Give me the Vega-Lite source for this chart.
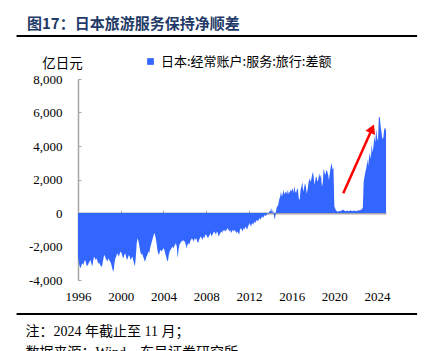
{
  "$schema": "https://vega.github.io/schema/vega-lite/v6.json",
  "width": 308,
  "height": 201,
  "autosize": "none",
  "padding": {"left": 78, "top": 79, "right": 51, "bottom": 71},
  "background": "white",
  "config": {"view": {"stroke": null}, "axis": {"labelOverlap": false}, "axisY": {"labelOverlap": false}, "axisQuantitative": {"labelOverlap": false}},
  "title": {"text": "图17：日本旅游服务保持净顺差", "anchor": "start", "frame": "group", "font": "Noto Sans CJK SC", "fontSize": 15, "fontWeight": "bold", "color": "#1F3A68", "dx": -51, "dy": 18, "offset": 14, "baseline": "middle"},
  "datasets": {
    "series": [
      {"d":"1996-01","v":-2600},{"d":"1996-02","v":-3000},{"d":"1996-03","v":-3200},{"d":"1996-04","v":-3300},{"d":"1996-05","v":-3100},{"d":"1996-06","v":-3000},{"d":"1996-07","v":-3100},{"d":"1996-08","v":-2900},{"d":"1996-09","v":-2800},{"d":"1996-10","v":-3000},{"d":"1996-11","v":-3200},{"d":"1996-12","v":-3100},
      {"d":"1997-01","v":-3000},{"d":"1997-02","v":-2900},{"d":"1997-03","v":-2800},{"d":"1997-04","v":-3000},{"d":"1997-05","v":-3200},{"d":"1997-06","v":-2900},{"d":"1997-07","v":-2600},{"d":"1997-08","v":-2700},{"d":"1997-09","v":-2800},{"d":"1997-10","v":-2700},{"d":"1997-11","v":-2900},{"d":"1997-12","v":-3000},
      {"d":"1998-01","v":-3000},{"d":"1998-02","v":-3100},{"d":"1998-03","v":-3200},{"d":"1998-04","v":-3200},{"d":"1998-05","v":-2900},{"d":"1998-06","v":-2600},{"d":"1998-07","v":-2500},{"d":"1998-08","v":-2700},{"d":"1998-09","v":-2800},{"d":"1998-10","v":-2900},{"d":"1998-11","v":-2700},{"d":"1998-12","v":-2800},
      {"d":"1999-01","v":-2900},{"d":"1999-02","v":-3000},{"d":"1999-03","v":-3200},{"d":"1999-04","v":-3400},{"d":"1999-05","v":-3500},{"d":"1999-06","v":-3000},{"d":"1999-07","v":-2700},{"d":"1999-08","v":-2600},{"d":"1999-09","v":-2400},{"d":"1999-10","v":-2500},{"d":"1999-11","v":-2600},{"d":"1999-12","v":-2400},
      {"d":"2000-01","v":-2300},{"d":"2000-02","v":-2400},{"d":"2000-03","v":-2600},{"d":"2000-04","v":-2700},{"d":"2000-05","v":-2500},{"d":"2000-06","v":-2400},{"d":"2000-07","v":-2600},{"d":"2000-08","v":-2800},{"d":"2000-09","v":-2700},{"d":"2000-10","v":-2500},{"d":"2000-11","v":-2600},{"d":"2000-12","v":-2800},
      {"d":"2001-01","v":-2700},{"d":"2001-02","v":-2600},{"d":"2001-03","v":-2800},{"d":"2001-04","v":-3000},{"d":"2001-05","v":-3200},{"d":"2001-06","v":-2600},{"d":"2001-07","v":-1800},{"d":"2001-08","v":-1500},{"d":"2001-09","v":-1700},{"d":"2001-10","v":-2000},{"d":"2001-11","v":-2300},{"d":"2001-12","v":-2500},
      {"d":"2002-01","v":-2400},{"d":"2002-02","v":-2600},{"d":"2002-03","v":-2700},{"d":"2002-04","v":-2900},{"d":"2002-05","v":-2800},{"d":"2002-06","v":-2600},{"d":"2002-07","v":-2500},{"d":"2002-08","v":-2300},{"d":"2002-09","v":-2400},{"d":"2002-10","v":-2100},{"d":"2002-11","v":-1900},{"d":"2002-12","v":-1700},
      {"d":"2003-01","v":-1500},{"d":"2003-02","v":-1300},{"d":"2003-03","v":-1200},{"d":"2003-04","v":-1400},{"d":"2003-05","v":-1700},{"d":"2003-06","v":-2100},{"d":"2003-07","v":-2400},{"d":"2003-08","v":-2500},{"d":"2003-09","v":-2300},{"d":"2003-10","v":-2200},{"d":"2003-11","v":-2300},{"d":"2003-12","v":-2200},
      {"d":"2004-01","v":-2100},{"d":"2004-02","v":-2200},{"d":"2004-03","v":-2400},{"d":"2004-04","v":-2600},{"d":"2004-05","v":-2800},{"d":"2004-06","v":-2900},{"d":"2004-07","v":-2500},{"d":"2004-08","v":-2300},{"d":"2004-09","v":-2200},{"d":"2004-10","v":-2100},{"d":"2004-11","v":-2000},{"d":"2004-12","v":-2100},
      {"d":"2005-01","v":-2000},{"d":"2005-02","v":-1900},{"d":"2005-03","v":-1800},{"d":"2005-04","v":-2000},{"d":"2005-05","v":-2700},{"d":"2005-06","v":-2200},{"d":"2005-07","v":-1900},{"d":"2005-08","v":-1800},{"d":"2005-09","v":-1700},{"d":"2005-10","v":-1700},{"d":"2005-11","v":-1600},{"d":"2005-12","v":-1700},
      {"d":"2006-01","v":-1700},{"d":"2006-02","v":-1900},{"d":"2006-03","v":-2100},{"d":"2006-04","v":-1900},{"d":"2006-05","v":-1800},{"d":"2006-06","v":-1900},{"d":"2006-07","v":-1700},{"d":"2006-08","v":-1600},{"d":"2006-09","v":-1500},{"d":"2006-10","v":-1600},{"d":"2006-11","v":-1700},{"d":"2006-12","v":-1500},
      {"d":"2007-01","v":-1600},{"d":"2007-02","v":-1500},{"d":"2007-03","v":-1700},{"d":"2007-04","v":-1800},{"d":"2007-05","v":-1600},{"d":"2007-06","v":-1500},{"d":"2007-07","v":-1400},{"d":"2007-08","v":-1500},{"d":"2007-09","v":-1600},{"d":"2007-10","v":-1400},{"d":"2007-11","v":-1500},{"d":"2007-12","v":-1300},
      {"d":"2008-01","v":-1300},{"d":"2008-02","v":-1400},{"d":"2008-03","v":-1500},{"d":"2008-04","v":-1400},{"d":"2008-05","v":-1300},{"d":"2008-06","v":-1200},{"d":"2008-07","v":-1400},{"d":"2008-08","v":-1300},{"d":"2008-09","v":-1200},{"d":"2008-10","v":-1100},{"d":"2008-11","v":-1200},{"d":"2008-12","v":-1300},
      {"d":"2009-01","v":-1100},{"d":"2009-02","v":-1200},{"d":"2009-03","v":-1400},{"d":"2009-04","v":-1300},{"d":"2009-05","v":-1200},{"d":"2009-06","v":-1100},{"d":"2009-07","v":-1200},{"d":"2009-08","v":-1000},{"d":"2009-09","v":-1100},{"d":"2009-10","v":-1000},{"d":"2009-11","v":-1100},{"d":"2009-12","v":-1000},
      {"d":"2010-01","v":-900},{"d":"2010-02","v":-1000},{"d":"2010-03","v":-1100},{"d":"2010-04","v":-1000},{"d":"2010-05","v":-1200},{"d":"2010-06","v":-1100},{"d":"2010-07","v":-1000},{"d":"2010-08","v":-1100},{"d":"2010-09","v":-1000},{"d":"2010-10","v":-1100},{"d":"2010-11","v":-1200},{"d":"2010-12","v":-1100},
      {"d":"2011-01","v":-1200},{"d":"2011-02","v":-1300},{"d":"2011-03","v":-1000},{"d":"2011-04","v":-900},{"d":"2011-05","v":-1000},{"d":"2011-06","v":-1100},{"d":"2011-07","v":-900},{"d":"2011-08","v":-1000},{"d":"2011-09","v":-800},{"d":"2011-10","v":-900},{"d":"2011-11","v":-1000},{"d":"2011-12","v":-800},
      {"d":"2012-01","v":-700},{"d":"2012-02","v":-600},{"d":"2012-03","v":-800},{"d":"2012-04","v":-700},{"d":"2012-05","v":-600},{"d":"2012-06","v":-700},{"d":"2012-07","v":-500},{"d":"2012-08","v":-600},{"d":"2012-09","v":-500},{"d":"2012-10","v":-400},{"d":"2012-11","v":-500},{"d":"2012-12","v":-400},
      {"d":"2013-01","v":-300},{"d":"2013-02","v":-400},{"d":"2013-03","v":-300},{"d":"2013-04","v":-200},{"d":"2013-05","v":-300},{"d":"2013-06","v":-200},{"d":"2013-07","v":-100},{"d":"2013-08","v":-200},{"d":"2013-09","v":-100},{"d":"2013-10","v":0},{"d":"2013-11","v":-100},{"d":"2013-12","v":100},
      {"d":"2014-01","v":100},{"d":"2014-02","v":300},{"d":"2014-03","v":0},{"d":"2014-04","v":200},{"d":"2014-05","v":-100},{"d":"2014-06","v":-400},{"d":"2014-07","v":-100},{"d":"2014-08","v":300},{"d":"2014-09","v":400},{"d":"2014-10","v":500},{"d":"2014-11","v":800},{"d":"2014-12","v":950},
      {"d":"2015-01","v":1270},{"d":"2015-02","v":970},{"d":"2015-03","v":1150},{"d":"2015-04","v":1370},{"d":"2015-05","v":1100},{"d":"2015-06","v":1270},{"d":"2015-07","v":1150},{"d":"2015-08","v":1370},{"d":"2015-09","v":1100},{"d":"2015-10","v":1300},{"d":"2015-11","v":1200},{"d":"2015-12","v":1400},
      {"d":"2016-01","v":1300},{"d":"2016-02","v":1500},{"d":"2016-03","v":1200},{"d":"2016-04","v":1600},{"d":"2016-05","v":1300},{"d":"2016-06","v":1200},{"d":"2016-07","v":1400},{"d":"2016-08","v":1470},{"d":"2016-09","v":870},{"d":"2016-10","v":780},{"d":"2016-11","v":1370},{"d":"2016-12","v":1570},
      {"d":"2017-01","v":1870},{"d":"2017-02","v":1270},{"d":"2017-03","v":1500},{"d":"2017-04","v":1770},{"d":"2017-05","v":1600},{"d":"2017-06","v":1150},{"d":"2017-07","v":1400},{"d":"2017-08","v":1800},{"d":"2017-09","v":2070},{"d":"2017-10","v":1870},{"d":"2017-11","v":2000},{"d":"2017-12","v":2270},
      {"d":"2018-01","v":2470},{"d":"2018-02","v":2000},{"d":"2018-03","v":1670},{"d":"2018-04","v":2100},{"d":"2018-05","v":2170},{"d":"2018-06","v":1870},{"d":"2018-07","v":2000},{"d":"2018-08","v":2370},{"d":"2018-09","v":2100},{"d":"2018-10","v":2300},{"d":"2018-11","v":1570},{"d":"2018-12","v":1800},
      {"d":"2019-01","v":2670},{"d":"2019-02","v":2400},{"d":"2019-03","v":2270},{"d":"2019-04","v":2570},{"d":"2019-05","v":2500},{"d":"2019-06","v":2300},{"d":"2019-07","v":1970},{"d":"2019-08","v":2400},{"d":"2019-09","v":2770},{"d":"2019-10","v":2970},{"d":"2019-11","v":2600},{"d":"2019-12","v":2700},
      {"d":"2020-01","v":400},{"d":"2020-02","v":250},{"d":"2020-03","v":150},{"d":"2020-04","v":100},{"d":"2020-05","v":80},{"d":"2020-06","v":100},{"d":"2020-07","v":120},{"d":"2020-08","v":100},{"d":"2020-09","v":150},{"d":"2020-10","v":180},{"d":"2020-11","v":200},{"d":"2020-12","v":150},
      {"d":"2021-01","v":120},{"d":"2021-02","v":100},{"d":"2021-03","v":150},{"d":"2021-04","v":130},{"d":"2021-05","v":100},{"d":"2021-06","v":120},{"d":"2021-07","v":160},{"d":"2021-08","v":140},{"d":"2021-09","v":110},{"d":"2021-10","v":130},{"d":"2021-11","v":150},{"d":"2021-12","v":120},
      {"d":"2022-01","v":130},{"d":"2022-02","v":110},{"d":"2022-03","v":140},{"d":"2022-04","v":160},{"d":"2022-05","v":150},{"d":"2022-06","v":180},{"d":"2022-07","v":200},{"d":"2022-08","v":220},{"d":"2022-09","v":350},{"d":"2022-10","v":1900},{"d":"2022-11","v":2200},{"d":"2022-12","v":2500},
      {"d":"2023-01","v":2700},{"d":"2023-02","v":3200},{"d":"2023-03","v":2800},{"d":"2023-04","v":3300},{"d":"2023-05","v":3600},{"d":"2023-06","v":3200},{"d":"2023-07","v":4100},{"d":"2023-08","v":3600},{"d":"2023-09","v":4000},{"d":"2023-10","v":4600},{"d":"2023-11","v":4200},{"d":"2023-12","v":5000},
      {"d":"2024-01","v":4500},{"d":"2024-02","v":4300},{"d":"2024-03","v":5700},{"d":"2024-04","v":5750},{"d":"2024-05","v":5200},{"d":"2024-06","v":4800},{"d":"2024-07","v":4400},{"d":"2024-08","v":4500},{"d":"2024-09","v":5000},{"d":"2024-10","v":5100},{"d":"2024-11","v":4900}
    ],
    "arrow": [{"x1": "2020-11-01", "y1": 1175, "x2": "2023-07-15", "y2": 5033}]
  },
  "layer": [
    {
      "data": {"name": "series"},
      "mark": {"type": "area", "interpolate": "linear"},
      "encoding": {
        "x": {"field": "d", "type": "temporal",
          "scale": {"domain": [{"year": 1996, "month": 1, "date": 1}, {"year": 2024, "month": 11, "date": 1}]},
          "axis": {"orient": "bottom", "offset": -67, "values": [{"year":1996},{"year":2000},{"year":2004},{"year":2008},{"year":2012},{"year":2016},{"year":2020},{"year":2024}],
            "format": "%Y", "labelFont": "Liberation Serif", "labelFontSize": 13, "labelColor": "#000", "labelAlign": "center", "labelBaseline": "top",
            "tickSize": -3, "tickColor": "#A6A6A6", "tickWidth": 1, "domainColor": "#A6A6A6", "domainWidth": 2, "labelPadding": 80, "grid": false,
            "labelFlush": false, "labelOverlap": false,
            "title": ["注：2024 年截止至 11 月；", "数据来源：Wind，东吴证券研究所"],
            "titleFont": "Liberation Serif, Noto Sans CJK SC", "titleFontSize": 14, "titleFontWeight": "normal", "titleColor": "#000",
            "titleAnchor": "start", "titleAlign": "left", "titleBaseline": "top", "titleX": -53, "titleY": 111, "titleLineHeight": 21}},
        "y": {"field": "v", "type": "quantitative",
          "scale": {"domain": [-4000, 8000], "nice": false},
          "axis": {"tickCount": 7, "format": ",d", "labelExpr": "replace(datum.label, '\u2212', '-')",
            "labelFont": "Liberation Serif", "labelFontSize": 13, "labelColor": "#000", "labelOverlap": false, "labelFlush": false, "labelBound": false,
            "tickSize": -3, "tickColor": "#A6A6A6", "domainColor": "#A6A6A6", "domainWidth": 1.5, "labelPadding": 19, "grid": false,
            "title": "亿日元", "titleAngle": 0, "titleFont": "Noto Sans CJK SC", "titleFontSize": 13.5, "titleFontWeight": "normal", "titleColor": "#000",
            "titleX": -16, "titleY": -16, "titleAlign": "center", "titleBaseline": "middle"}},
        "fill": {"datum": "日本:经常账户:服务:旅行:差额", "type": "nominal", "scale": {"range": ["#3366FF"]},
          "legend": {"orient": "none", "legendX": 66, "legendY": -24, "title": null, "symbolType": "square", "symbolSize": 45, "symbolStrokeWidth": 0,
            "labelFont": "Noto Sans CJK SC", "labelFontSize": 13, "labelColor": "#000", "labelOffset": 4, "labelLimit": 400, "padding": 0}}
      }
    },
    {
      "data": {"values": [{}]},
      "mark": {"type": "rule", "color": "#000", "strokeWidth": 2, "clip": false},
      "encoding": {
        "x": {"datum": {"year": 1990, "month": 4, "date": 1}, "type": "temporal"},
        "x2": {"datum": {"year": 2027, "month": 10, "date": 1}},
        "y": {"datum": 10567, "type": "quantitative"}
      }
    },
    {
      "data": {"values": [{}]},
      "mark": {"type": "rule", "color": "#000", "strokeWidth": 2, "clip": false},
      "encoding": {
        "x": {"datum": {"year": 1990, "month": 4, "date": 1}, "type": "temporal"},
        "x2": {"datum": {"year": 2027, "month": 10, "date": 1}},
        "y": {"datum": -6030, "type": "quantitative"}
      }
    },
    {
      "data": {"name": "arrow"},
      "mark": {"type": "rule", "color": "#FF0000", "strokeWidth": 2.5},
      "encoding": {
        "x": {"field": "x1", "type": "temporal"},
        "y": {"field": "y1", "type": "quantitative"},
        "x2": {"field": "x2"},
        "y2": {"field": "y2"}
      }
    },
    {
      "data": {"name": "arrow"},
      "mark": {"type": "point", "shape": "triangle-up", "filled": true, "color": "#FF0000", "size": 110, "angle": 24, "opacity": 1},
      "encoding": {
        "x": {"field": "x2", "type": "temporal"},
        "y": {"field": "y2", "type": "quantitative"}
      }
    }
  ]
}
